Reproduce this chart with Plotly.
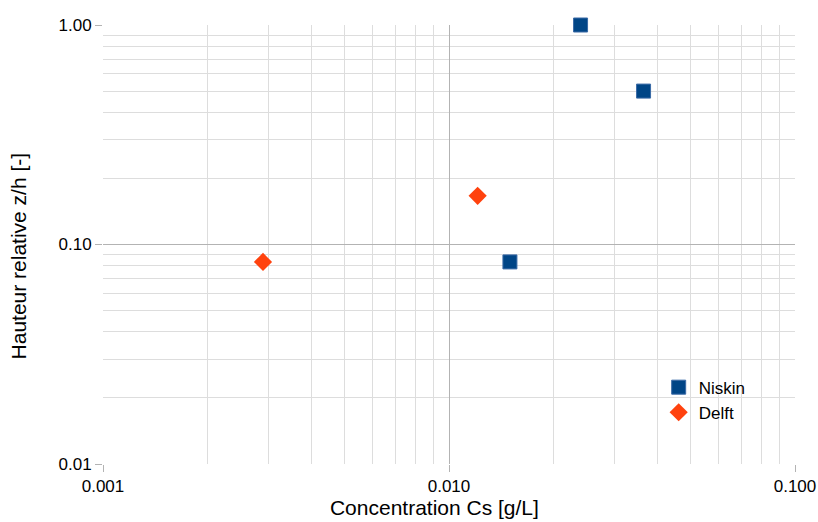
import plotly.graph_objects as go

niskin_x = [0.015, 0.024, 0.0365]
niskin_y = [0.0833, 1.0, 0.5]
delft_x = [0.0029, 0.0121]
delft_y = [0.0833, 0.1667]

x_ticks = [0.001, 0.01, 0.1]
x_tick_labels = ["0.001", "0.010", "0.100"]
y_ticks = [0.01, 0.1, 1.0]
y_tick_labels = ["0.01", "0.10", "1.00"]

minor_x = [m * 10**e for e in (-3, -2) for m in range(2, 10)]
minor_y = [m * 10**e for e in (-2, -1) for m in range(2, 10)]

fig = go.Figure()
fig.add_trace(go.Scatter(x=niskin_x, y=niskin_y, mode="markers", name="Niskin",
                         cliponaxis=False,
                         marker=dict(symbol="square", size=14, color="#004586",
                                     line=dict(color="#3a6aa6", width=1))))
fig.add_trace(go.Scatter(x=delft_x, y=delft_y, mode="markers", name="Delft",
                         cliponaxis=False,
                         marker=dict(symbol="diamond", size=14, color="#ff420e",
                                     line=dict(width=0))))

axis_common = dict(
    type="log", showgrid=True, gridcolor="#b3b3b3", gridwidth=1,
    ticks="outside", ticklen=7, tickcolor="#b3b3b3", zeroline=False,
    showline=False, automargin=False,
    tickfont=dict(family="Liberation Sans", size=17, color="#000000"),
)

pad = "\u00a0"
end = "\u200b"
fig.update_layout(
    width=818, height=522,
    margin=dict(l=103, r=23, t=25, b=58),
    paper_bgcolor="white", plot_bgcolor="white",
    font=dict(family="Liberation Sans", color="#000000"),
    xaxis=dict(**axis_common, range=[-3, -1], tickvals=x_ticks, ticktext=x_tick_labels,
               title=dict(text="Concentration Cs [g/L]" + pad * 5 + end, font=dict(size=21), standoff=2),
               minor=dict(tickvals=minor_x, showgrid=True, gridcolor="#dddddd", ticks="")),
    yaxis=dict(**axis_common, range=[-2, 0], tickvals=y_ticks, ticktext=y_tick_labels,
               title=dict(text="Hauteur relative z/h [-]" + pad * 4 + end, font=dict(size=21), standoff=26),
               minor=dict(tickvals=minor_y, showgrid=True, gridcolor="#dddddd", ticks="")),
    legend=dict(x=0.803, y=0.215, xanchor="left", yanchor="top",
                bgcolor="rgba(0,0,0,0)", font=dict(size=17),
                itemwidth=30, tracegroupgap=0),
    showlegend=True,
)

fig.write_html("out.html", config={"displayModeBar": False},
               post_script="document.body.style.margin='0';")
